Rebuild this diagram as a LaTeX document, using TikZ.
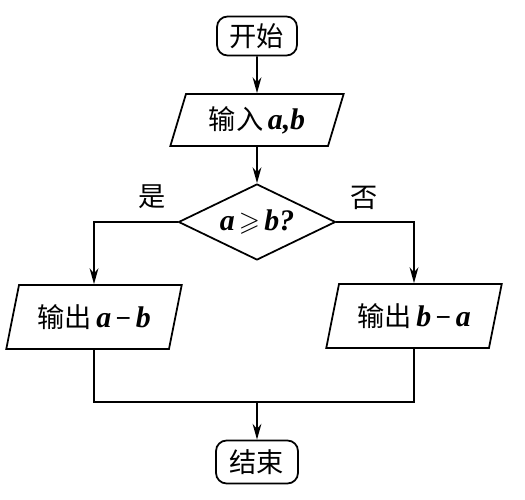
\documentclass[tikz,border=0pt]{standalone}
\usepackage{amssymb}
\usepackage{fontspec}
\setmainfont{Liberation Serif}
\newfontfamily\cjk{Noto Sans CJK SC}
\usetikzlibrary{shapes.geometric,arrows.meta}
\newcommand{\mv}[1]{{\fontsize{17}{18}\selectfont\bfseries\itshape #1}}
\begin{document}
\begin{tikzpicture}[x=0.02cm,y=-0.02cm,
  every node/.style={font=\fontsize{15.5}{17}\selectfont},
  line/.style={line width=1pt},
  arr/.style={line, -{Stealth[length=9pt,width=5pt]}},
  term/.style={draw, line width=1pt, rounded corners=6pt, inner sep=0pt},
  io/.style={draw, line width=1pt, trapezium, trapezium left angle=69, trapezium right angle=111, trapezium stretches=true, inner sep=0pt},
  dec/.style={draw, line width=1pt, diamond, aspect=2.1, inner sep=0pt}]
\useasboundingbox (0,0) rectangle (525,500);
\node[term, minimum width=1.6cm, minimum height=0.78cm] (start) at (257,36) {\cjk 开始};
\node[io, minimum width=3.48cm, minimum height=1.04cm] (input) at (257,120) {{\cjk 输入}\,\mv{a,b}};
\node[dec, minimum width=3.14cm, minimum height=1.52cm] (d) at (257,222) {\mv{a}$\,\geqslant\,$\mv{b?}};
\node[io, minimum width=3.52cm, minimum height=1.28cm] (outL) at (94,317) {{\cjk 输出}\,\mv{a}\,\textbf{−}\,\mv{b}};
\node[io, minimum width=3.52cm, minimum height=1.28cm] (outR) at (414,316) {{\cjk 输出}\,\mv{b}\,\textbf{−}\,\mv{a}};
\node[term, minimum width=1.64cm, minimum height=0.86cm] (end) at (257,462) {\cjk 结束};
\node (yes) at (152,197) {\cjk 是};
\node (no) at (364,198) {\cjk 否};
\coordinate (j) at (257,402);
\draw[arr] (start) -- (input);
\draw[arr] (input) -- (d);
\draw[arr] (d.west) -| (outL.north);
\draw[arr] (d.east) -| (outR.north);
\draw[line] (outL.south) |- (j) -| (outR.south);
\draw[arr] (j) -- (end);
\end{tikzpicture}
\end{document}
